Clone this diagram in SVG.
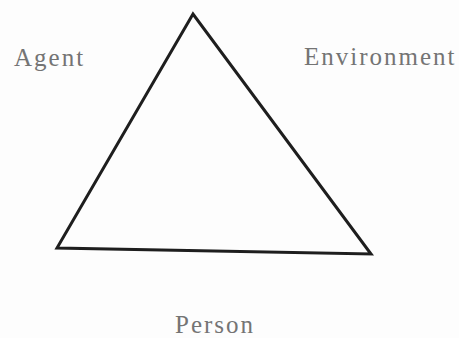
<svg xmlns="http://www.w3.org/2000/svg" width="459" height="338" viewBox="0 0 459 338">
<style>
.lbl{font-family:"Liberation Serif","Times New Roman",serif;font-size:25px;fill:#747474;letter-spacing:2px}
.edge{fill:none;stroke:#1e1e1e;stroke-width:3;stroke-linejoin:miter}
</style>
<rect width="459" height="338" fill="#fdfdfd"/>
<g id="connectors">
<polygon class="edge" points="193,14 57,248 371,254"/>
</g>
<g id="agent"><text class="lbl" x="14" y="66">Agent</text></g>
<g id="environment"><text class="lbl" x="304" y="65">Environment</text></g>
<g id="person"><text class="lbl" x="175" y="333">Person</text></g>
</svg>
